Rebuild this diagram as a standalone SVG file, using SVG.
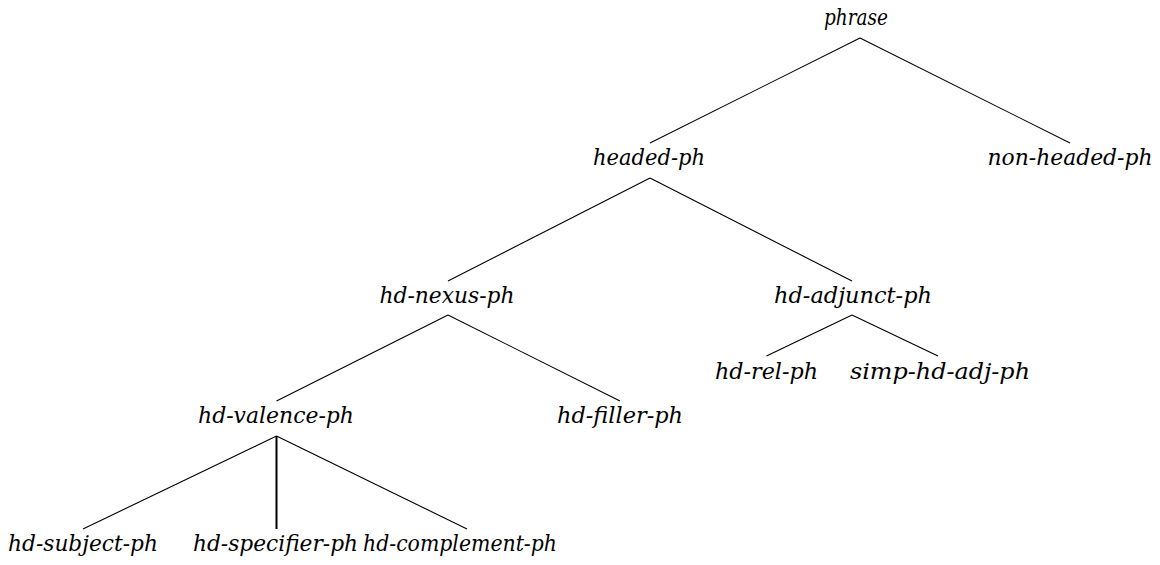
<svg xmlns="http://www.w3.org/2000/svg" width="1160" height="565" viewBox="0 0 1160 565">
<style>
.lbl { font-family: 'DejaVu Serif', serif; font-style: italic; font-size: 22px; fill: #000; text-anchor: middle; }
.edge { stroke: #000; stroke-width: 1.1; fill: none; }
</style>
<rect width="1160" height="565" fill="#fff"/>
<g id="connectors">
<line class="edge" x1="860" y1="38" x2="650" y2="143"/>
<line class="edge" x1="860" y1="38" x2="1070" y2="143"/>
<line class="edge" x1="650" y1="178" x2="448" y2="281"/>
<line class="edge" x1="650" y1="178" x2="852" y2="281"/>
<line class="edge" x1="448" y1="315" x2="276.5" y2="401"/>
<line class="edge" x1="448" y1="315" x2="620" y2="401"/>
<line class="edge" x1="852" y1="315" x2="766.5" y2="356"/>
<line class="edge" x1="852" y1="315" x2="938" y2="356"/>
<line class="edge" x1="276.5" y1="436" x2="83" y2="529"/>
<line class="edge" x1="276.5" y1="436" x2="276.5" y2="529" style="stroke-width:2"/>
<line class="edge" x1="276.5" y1="436" x2="467" y2="529"/>
</g>
<g id="phrase"><text class="lbl" x="856" y="25" textLength="64" lengthAdjust="spacingAndGlyphs">phrase</text></g>
<g id="headed-ph"><text class="lbl" x="649" y="165" textLength="112" lengthAdjust="spacingAndGlyphs">headed-ph</text></g>
<g id="non-headed-ph"><text class="lbl" x="1070" y="165" textLength="165" lengthAdjust="spacingAndGlyphs">non-headed-ph</text></g>
<g id="hd-nexus-ph"><text class="lbl" x="447" y="303" textLength="135" lengthAdjust="spacingAndGlyphs">hd-nexus-ph</text></g>
<g id="hd-adjunct-ph"><text class="lbl" x="853" y="303" textLength="158" lengthAdjust="spacingAndGlyphs">hd-adjunct-ph</text></g>
<g id="hd-rel-ph"><text class="lbl" x="766.5" y="379" textLength="103" lengthAdjust="spacingAndGlyphs">hd-rel-ph</text></g>
<g id="simp-hd-adj-ph"><text class="lbl" x="940" y="379" textLength="180" lengthAdjust="spacingAndGlyphs">simp-hd-adj-ph</text></g>
<g id="hd-valence-ph"><text class="lbl" x="276" y="423" textLength="156" lengthAdjust="spacingAndGlyphs">hd-valence-ph</text></g>
<g id="hd-filler-ph"><text class="lbl" x="620" y="423" textLength="126" lengthAdjust="spacingAndGlyphs">hd-filler-ph</text></g>
<g id="hd-subject-ph"><text class="lbl" x="83" y="551" textLength="150" lengthAdjust="spacingAndGlyphs">hd-subject-ph</text></g>
<g id="hd-specifier-ph"><text class="lbl" x="275.5" y="551" textLength="165" lengthAdjust="spacingAndGlyphs">hd-specifier-ph</text></g>
<g id="hd-complement-ph"><text class="lbl" x="460" y="551" textLength="194" lengthAdjust="spacingAndGlyphs">hd-complement-ph</text></g>
</svg>
